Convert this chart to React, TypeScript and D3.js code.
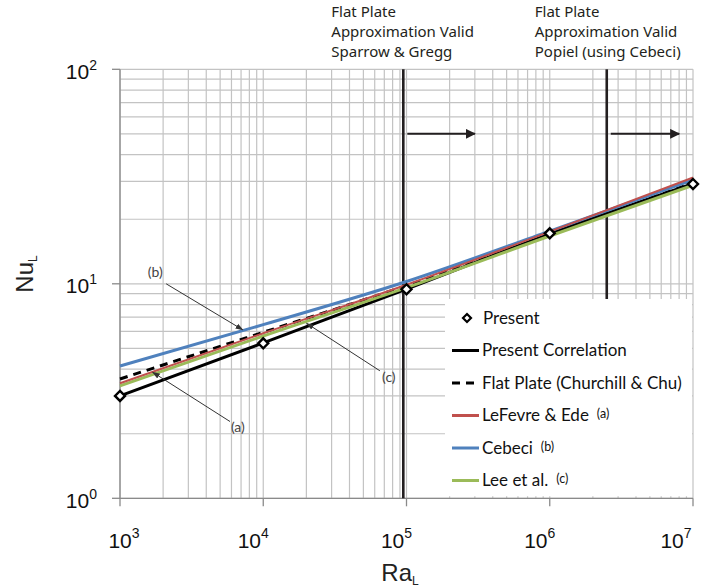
import React from 'react';
import * as d3 from 'd3';

// Rayleigh number at each decade
const raValues = [1e3, 1e4, 1e5, 1e6, 1e7];

// Nusselt number per series
const presentNu = [3.0, 5.28, 9.43, 17.2, 29.2];
const correlationNu = [3.0, 5.3, 9.45, 17.1, 29.3];
const flatPlateNu = [3.6, 5.94, 9.8, 16.9, 29.6];
const lefevreNu = [3.44, 5.88, 9.9, 17.5, 31.3];
const cebeciNu = [4.14, 6.45, 10.25, 17.6, 30.5];
const leeNu = [3.34, 5.71, 9.6, 16.7, 28.8];

const xTicks = [1e3, 1e4, 1e5, 1e6, 1e7];
const yTicks = [1, 10, 100];

// validity limits (Ra) for the flat plate approximation
const validLimits = [
  { ra: 9.5e4, arrowTo: 3.0e5, lines: ['Flat Plate', 'Approximation Valid', 'Sparrow & Gregg'], full: true },
  { ra: 2.5e6, arrowTo: 8.0e6, lines: ['Flat Plate', 'Approximation Valid', 'Popiel (using Cebeci)'], full: false },
];
const arrowNu = 50;

// callouts: tip on a curve, start of leader, label
const callouts = [
  { label: '(b)', tip: [7200, 6.1], from: [2100, 10.0], text: [1760, 10.8] },
  { label: '(c)', tip: [20100, 6.54], from: [65200, 3.93], text: [75300, 3.48] },
  { label: '(a)', tip: [1690, 3.87], from: [5860, 2.28], text: [6650, 2.04] },
];

const series = [
  { name: 'Present Correlation', values: correlationNu, color: '#000000', width: 3, dash: null, note: '' },
  { name: 'Flat Plate (Churchill & Chu)', values: flatPlateNu, color: '#000000', width: 3, dash: '8,6', note: '' },
  { name: 'LeFevre & Ede', values: lefevreNu, color: '#c0504d', width: 2, dash: null, note: '(a)' },
  { name: 'Cebeci', values: cebeciNu, color: '#4f81bd', width: 3, dash: null, note: '(b)' },
  { name: 'Lee et al.', values: leeNu, color: '#9bbb59', width: 3, dash: null, note: '(c)' },
];
const drawOrder = [0, 1, 3, 4, 2];

const W = 714;
const H = 588;
const left = 120;
const right = 693;
const top = 69.3;
const bottom = 498.3;

export default function App() {
  const x = d3.scaleLog().domain([1e3, 1e7]).range([left, right]);
  const y = d3.scaleLog().domain([1, 100]).range([bottom, top]);

  const minorX: number[] = [];
  for (let e = 3; e < 7; e++) for (let m = 1; m <= 9; m++) minorX.push(m * 10 ** e);
  minorX.push(1e7);
  const minorY: number[] = [];
  for (let e = 0; e < 2; e++) for (let m = 1; m <= 9; m++) minorY.push(m * 10 ** e);
  minorY.push(100);

  const line = d3
    .line<number>()
    .x((_, i) => x(raValues[i]))
    .y((d) => y(d))
    .curve(d3.curveMonotoneX);

  const gridColor = '#c3c3c3';
  const axisColor = '#8a8a8a';
  const tickFont = 'Liberation Sans, Arial, sans-serif';
  const legendFont = 'Lato, sans-serif';
  const noteFont = 'Noto Sans, sans-serif';

  const legendX = 445;
  const legendY = 299;
  const rowY = (i: number) => 318 + i * 32.5;

  return (
    <svg width={W} height={H} style={{ position: 'absolute', left: 0, top: 0, background: '#fff' }}>
      <defs>
        <marker id="bigArrow" viewBox="0 0 10 10" refX="9" refY="5" markerWidth="5" markerHeight="5" orient="auto">
          <path d="M0,0 L10,5 L0,10 z" fill="#231f20" />
        </marker>
        <marker id="smallArrow" viewBox="0 0 10 10" refX="9" refY="5" markerWidth="8" markerHeight="8" orient="auto">
          <path d="M0,1.5 L10,5 L0,8.5 z" fill="#333" />
        </marker>
      </defs>

      {/* grid */}
      {minorX.map((v) => (
        <line key={'gx' + v} x1={x(v)} x2={x(v)} y1={top} y2={bottom} stroke={gridColor} strokeWidth={1.2} />
      ))}
      {minorY.map((v) => (
        <line key={'gy' + v} x1={left} x2={right} y1={y(v)} y2={y(v)} stroke={gridColor} strokeWidth={1.2} />
      ))}

      {/* axes */}
      <line x1={left} x2={left} y1={top} y2={bottom} stroke={axisColor} strokeWidth={1.3} />
      <line x1={left} x2={right} y1={bottom} y2={bottom} stroke={axisColor} strokeWidth={1.3} />
      {yTicks.map((v) => (
        <g key={'yt' + v}>
          <line x1={left - 8} x2={left} y1={y(v)} y2={y(v)} stroke={axisColor} strokeWidth={1.3} />
          <text x={97} y={y(v) + 9.5} textAnchor="end" fontFamily={tickFont} fontSize={21} fill="#111">
            10
            <tspan fontSize={14} dy={-9}>{Math.round(Math.log10(v))}</tspan>
          </text>
        </g>
      ))}
      {xTicks.map((v) => {
        const cx = Math.min(Math.max(x(v) - 10, left + 4), right - 17);
        return (
          <g key={'xt' + v}>
            <line x1={x(v)} x2={x(v)} y1={bottom} y2={bottom + 8} stroke={axisColor} strokeWidth={1.3} />
            <text x={cx} y={548} textAnchor="middle" fontFamily={tickFont} fontSize={21} fill="#111">
              10
              <tspan fontSize={14} dy={-10}>{Math.round(Math.log10(v))}</tspan>
            </text>
          </g>
        );
      })}

      {/* axis titles */}
      <text x={400} y={581} textAnchor="middle" fontFamily={tickFont} fontSize={24} fill="#222">
        Ra<tspan fontSize={12} dy={4}>L</tspan>
      </text>
      <text transform="translate(33,274) rotate(-90)" textAnchor="middle" fontFamily={tickFont} fontSize={24} fill="#222">
        Nu<tspan fontSize={12} dy={4}>L</tspan>
      </text>

      {/* validity limits */}
      {validLimits.map((d) => (
        <g key={'vl' + d.ra}>
          <line
            x1={x(d.ra)}
            x2={x(d.ra)}
            y1={top}
            y2={d.full ? bottom : legendY}
            stroke="#231f20"
            strokeWidth={2.6}
          />
          <line
            x1={x(d.ra) + 4}
            x2={x(d.arrowTo)}
            y1={y(arrowNu)}
            y2={y(arrowNu)}
            stroke="#231f20"
            strokeWidth={2}
            markerEnd="url(#bigArrow)"
          />
          {d.lines.map((t, i) => (
            <text key={t} x={x(d.ra) - 72} y={17 + i * 20} fontFamily={noteFont} fontSize={15} fill="#231f20">
              {t}
            </text>
          ))}
        </g>
      ))}

      {/* series */}
      {drawOrder.map((i) => {
        const s = series[i];
        return (
          <path
            key={s.name}
            d={line(s.values) || ''}
            fill="none"
            stroke={s.color}
            strokeWidth={s.width}
            strokeDasharray={s.dash || undefined}
          />
        );
      })}

      {/* callouts */}
      {callouts.map((c) => (
        <g key={c.label}>
          <line
            x1={x(c.from[0])}
            y1={y(c.from[1])}
            x2={x(c.tip[0])}
            y2={y(c.tip[1])}
            stroke="#333"
            strokeWidth={1}
            markerEnd="url(#smallArrow)"
          />
          <text x={x(c.text[0])} y={y(c.text[1])} textAnchor="middle" fontFamily={legendFont} fontSize={14} fill="#444">
            {c.label}
          </text>
        </g>
      ))}

      {/* present data points */}
      {presentNu.map((v, i) => {
        const px = x(raValues[i]);
        const py = y(v);
        return (
          <path
            key={'p' + i}
            d={`M${px},${py - 5} L${px + 5},${py} L${px},${py + 5} L${px - 5},${py} Z`}
            fill="#fff"
            stroke="#000"
            strokeWidth={2.4}
          />
        );
      })}

      {/* legend */}
      <rect x={legendX} y={legendY} width={right - legendX - 1} height={bottom - legendY - 2} fill="#fff" />
      <g fontFamily={legendFont} fontSize={17} fill="#111">
        <path
          d={`M467,${rowY(0) - 4} L471,${rowY(0)} L467,${rowY(0) + 4} L463,${rowY(0)} Z`}
          fill="#fff"
          stroke="#000"
          strokeWidth={2.2}
        />
        <text x={483} y={rowY(0) + 5.5}>Present</text>
        {series.map((s, i) => (
          <g key={'lg' + s.name}>
            <line
              x1={452}
              x2={479}
              y1={rowY(i + 1)}
              y2={rowY(i + 1)}
              stroke={s.color}
              strokeWidth={3}
              strokeDasharray={s.dash ? '8,6' : undefined}
            />
            <text x={482} y={rowY(i + 1) + 5.5}>
              {s.name}
              {s.note ? (
                <tspan fontSize={12.5} dx={8} dy={-3}>
                  {s.note}
                </tspan>
              ) : null}
            </text>
          </g>
        ))}
      </g>
    </svg>
  );
}
